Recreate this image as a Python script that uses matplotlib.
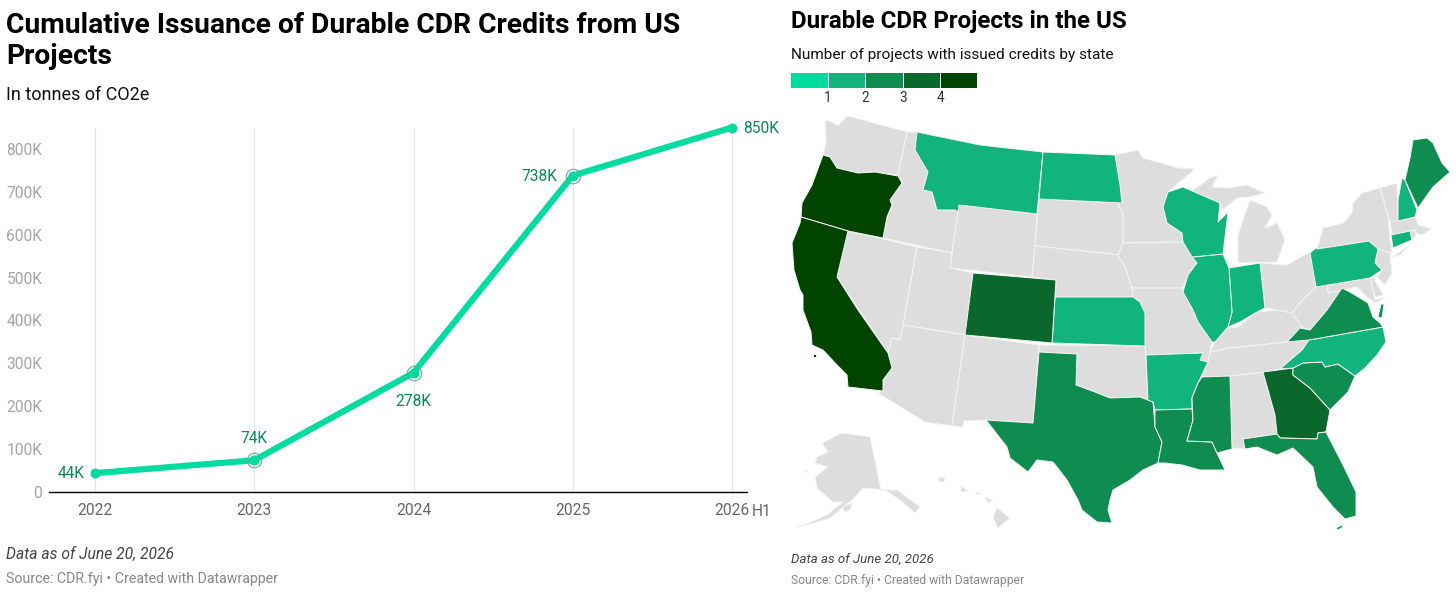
import matplotlib
matplotlib.use("Agg")
import matplotlib.pyplot as plt
from matplotlib.patches import Polygon

plt.rcParams['font.family'] = ['Roboto', 'DejaVu Sans']

W, H = 1456, 592

# ---- line chart data
years = ['2022', '2023', '2024', '2025', '2026']
issued_k = [44, 74, 278, 738, 850]
issued_labels = ['44K', '74K', '278K', '738K', '850K']
y_ticks = [0, 100, 200, 300, 400, 500, 600, 700, 800]
y_tick_labels = ['0', '100K', '200K', '300K', '400K', '500K', '600K', '700K', '800K']

# ---- map data
legend_colors = ['#00dca0', '#10b47c', '#0f8c50', '#0a682c', '#004400']
legend_labels = ['1', '2', '3', '4']
no_data = '#dddddd'
projects_by_state = {
    'OR': 4, 'CA': 4, 'CAI': 4, 'CO': 3, 'GA': 3, 'TX': 2, 'LA': 2, 'MS': 2, 'FL': 2, 'FLK': 2, 'SC': 2,
    'VA': 2, 'ME': 2, 'VAE': 2, 'MT': 1, 'ND': 1, 'WI': 1, 'IL': 1, 'IN': 1, 'KS': 1,
    'AR': 1, 'NC': 1, 'PA': 1, 'NH': 1, 'CT': 1,
}

# state outlines, traced as map-space vertices
state_shapes = {
 'WA': [(825,120),(832,122),(838,126),(843,120),(848,116),(907,132),(898,175),(875,172),(858,173),(837,168),(830,157),(823,155),(826,142)],
 'OR': [(823,155),(830,157),(837,168),(858,173),(875,172),(898,176),(902,183),(890,200),(892,205),(887,217),(883,238),(848,231),(801,217),(802,203),(812,185)],
 'CA': [(801,217),(848,231),(837,277),(858,310),(888,353),(892,368),(883,380),(883,391),(848,387),(847,375),(837,365),(823,350),(812,345),(811,332),(803,310),(803,295),(800,290),(794,270),(793,257),(792,243),(800,223)],
 'CAI': [(813,354),(816,354),(816,357),(813,357)],
 'ID': [(907,132),(917,132),(915,150),(928,172),(923,190),(932,192),(937,210),(955,210),(958,212),(952,253),(883,238),(887,217),(892,205),(890,200),(902,183),(898,175)],
 'MT': [(917,132),(980,145),(1043,152),(1037,214),(959,205),(958,212),(955,210),(937,210),(932,192),(923,190),(928,172),(915,150)],
 'ND': [(1043,152),(1115,155),(1120,185),(1122,203),(1039,199)],
 'SD': [(1039,199),(1122,203),(1119,207),(1123,213),(1123,243),(1118,255),(1103,253),(1035,246)],
 'WY': [(959,205),(1037,214),(1035,246),(1032,277),(950,268),(952,253),(958,212)],
 'NE': [(1035,246),(1103,253),(1118,255),(1125,267),(1132,288),(1133,297),(1055,297),(1056,280),(1032,277)],
 'KS': [(1055,297),(1133,297),(1140,302),(1145,313),(1145,346),(1052,343)],
 'CO': [(973,273),(1056,280),(1052,343),(965,335)],
 'NV': [(848,231),(917,247),(903,325),(900,340),(892,338),(888,353),(837,277)],
 'UT': [(917,247),(952,253),(950,268),(973,273),(965,335),(903,325)],
 'AZ': [(903,325),(965,335),(952,426),(925,422),(878,393),(883,391),(883,380),(892,368),(888,353),(892,338),(900,340)],
 'NM': [(965,335),(1039,345),(1033,423),(986,420),(964,421),(963,427),(952,426)],
 'TX': [(1039,352),(1077,354),(1076,385),(1095,392),(1110,398),(1140,397),(1153,402),(1155,427),(1162,442),(1158,463),(1143,470),(1130,480),(1113,490),(1110,500),(1108,510),(1112,523),(1097,522),(1082,510),(1078,500),(1067,480),(1053,462),(1037,460),(1028,472),(1010,458),(1007,447),(986,420),(1033,423)],
 'OK': [(1039,345),(1145,346),(1146,355),(1148,400),(1140,397),(1110,398),(1095,392),(1076,385),(1077,354),(1039,352)],
 'AR': [(1146,355),(1203,353),(1200,360),(1208,362),(1198,383),(1192,398),(1192,409),(1155,410),(1153,402),(1148,400)],
 'LA': [(1155,410),(1192,409),(1193,420),(1187,441),(1212,442),(1217,453),(1225,470),(1200,470),(1182,465),(1165,463),(1158,463),(1162,442),(1155,427)],
 'MS': [(1202,377),(1230,376),(1232,449),(1217,453),(1212,442),(1187,441),(1193,420),(1192,398),(1198,383)],
 'AL': [(1230,376),(1263,372),(1275,415),(1277,434),(1243,439),(1245,449),(1233,448),(1232,449)],
 'GA': [(1263,372),(1293,368),(1293,375),(1310,388),(1330,410),(1326,432),(1318,433),(1317,439),(1280,438),(1277,434),(1275,415)],
 'FL': [(1243,439),(1277,434),(1280,438),(1317,439),(1318,433),(1326,432),(1343,465),(1356,492),(1356,516),(1345,519),(1333,507),(1317,487),(1313,467),(1293,448),(1277,455),(1257,447),(1245,449)],
 'FLK': [(1336,528),(1342,525),(1343,527),(1338,530)],
 'SC': [(1293,368),(1303,363),(1322,362),(1325,367),(1338,364),(1355,376),(1348,392),(1330,410),(1310,388),(1293,375)],
 'NC': [(1280,369),(1302,350),(1309,340),(1383,327),(1386,342),(1377,355),(1365,368),(1355,376),(1338,364),(1325,367),(1322,362),(1303,363),(1293,368)],
 'TN': [(1202,377),(1210,352),(1228,348),(1287,342),(1309,340),(1302,350),(1280,369),(1263,372),(1230,376)],
 'KY': [(1210,352),(1215,342),(1227,328),(1238,327),(1257,312),(1277,310),(1292,313),(1302,327),(1287,342),(1228,348)],
 'VA': [(1287,342),(1300,328),(1310,330),(1327,310),(1342,288),(1350,292),(1368,303),(1373,317),(1380,323),(1383,327),(1309,340)],
 'VAE': [(1378,317),(1381,304),(1384,304),(1382,318)],
 'WV': [(1292,313),(1302,327),(1310,330),(1327,310),(1342,288),(1328,293),(1327,285),(1316,287),(1314,287),(1302,300)],
 'OH': [(1260,263),(1287,265),(1310,252),(1316,287),(1302,300),(1292,313),(1277,310),(1265,308)],
 'IN': [(1229,268),(1260,263),(1265,308),(1257,312),(1240,322),(1228,327),(1232,312)],
 'IL': [(1192,257),(1223,254),(1229,268),(1232,312),(1228,327),(1215,342),(1212,342),(1198,322),(1193,310),(1183,292),(1188,275),(1197,263)],
 'WI': [(1168,192),(1183,187),(1220,203),(1218,222),(1228,212),(1223,254),(1192,257),(1183,242),(1182,233),(1167,223),(1163,207)],
 'MN': [(1115,155),(1138,150),(1143,158),(1158,162),(1178,168),(1195,169),(1182,180),(1168,192),(1163,207),(1167,223),(1182,233),(1183,242),(1123,243),(1123,213),(1119,207)],
 'IA': [(1123,243),(1183,242),(1192,257),(1197,263),(1188,275),(1183,288),(1132,288),(1125,267),(1118,255)],
 'MO': [(1132,288),(1183,288),(1183,292),(1193,310),(1198,322),(1212,342),(1210,352),(1208,362),(1200,360),(1203,353),(1146,355),(1145,346),(1145,313),(1140,302),(1133,297)],
 'MIU': [(1192,191),(1210,178),(1218,175),(1212,187),(1227,188),(1247,185),(1265,193),(1250,197),(1237,198),(1223,210),(1220,203)],
 'MIL': [(1238,263),(1238,235),(1250,200),(1267,207),(1272,215),(1265,228),(1277,223),(1285,240),(1277,262)],
 'NY': [(1317,249),(1323,228),(1343,223),(1352,213),(1353,203),(1362,193),(1380,188),(1388,215),(1390,240),(1392,250),(1390,258),(1378,249),(1369,241)],
 'LI': [(1392,257),(1410,245),(1400,255)],
 'PA': [(1310,253),(1317,247),(1317,249),(1369,241),(1378,249),(1375,263),(1382,270),(1370,278),(1316,287)],
 'NJ': [(1378,249),(1390,253),(1392,273),(1385,285),(1377,277),(1382,270),(1375,263)],
 'MD': [(1328,285),(1370,278),(1375,300),(1385,297),(1376,303),(1367,297),(1357,287),(1343,290),(1328,293)],
 'DE': [(1370,278),(1373,277),(1383,295),(1375,297)],
 'VT': [(1380,188),(1397,183),(1398,221),(1390,222),(1388,215)],
 'NH': [(1402,178),(1405,180),(1417,210),(1415,217),(1398,221),(1398,200)],
 'ME': [(1413,140),(1427,138),(1433,143),(1442,163),(1450,172),(1433,187),(1418,208),(1405,180),(1410,158)],
 'MA': [(1390,222),(1415,217),(1418,225),(1432,229),(1422,235),(1412,232),(1392,235)],
 'CT': [(1391,235),(1410,231),(1412,240),(1393,248)],
 'RI': [(1410,231),(1415,230),(1416,236),(1412,240)],
 'AK': [(822,443),(842,433),(870,437),(881,490),(897,490),(920,507),(915,513),(900,500),(885,490),(863,488),(852,500),(830,518),(797,528),(827,515),(843,502),(833,502),(817,488),(815,477),(828,467),(815,463),(817,457),(828,452)],
 'AK2': [(843,507),(852,503),(850,510),(844,512)],
 'AK3': [(803,469),(808,472),(809,473),(805,472)],
 'HI1': [(997,508),(1010,518),(998,528),(993,518)],
 'HI2': [(938,478),(945,477),(944,482),(940,482)],
 'HI3': [(961,486),(968,491),(961,492)],
 'HI4': [(975,492),(982,494),(976,494)],
 'HI5': [(985,497),(993,500),(988,503)],
}

fig = plt.figure(figsize=(W / 100, H / 100), dpi=100, facecolor='white')


def T(x, y, s, **kw):
    kw.setdefault('va', 'center')
    fig.text(x / W, 1 - (y + 1.5) / H, s, **kw)


def px(v):
    return v * 0.72


# ---- map axes
ax_map = fig.add_axes([0, 0, 1, 1])
ax_map.set_xlim(0, W)
ax_map.set_ylim(H, 0)
ax_map.axis('off')
for name, verts in state_shapes.items():
    n = projects_by_state.get(name, 0)
    color = legend_colors[n] if n else no_data
    ax_map.add_patch(Polygon(verts, closed=True, facecolor=color, edgecolor='#f4f4f4',
                             linewidth=0.7, joinstyle='round', zorder=3 if n else 2))
# legend
leg_edges = [791, 828, 865, 903, 940, 977]
for i, c in enumerate(legend_colors):
    ax_map.fill_between([leg_edges[i] + (0.5 if i else 0), leg_edges[i + 1] - 0.5], 73, 88, color=c, lw=0)
for i, s in enumerate(legend_labels):
    T(leg_edges[i + 1], 97, s, ha='center', fontsize=px(13.5), color='#333333')

# ---- line axes
x0, x1, y0, y1 = 49, 747, 492, 128
ax = fig.add_axes([x0 / W, 1 - y0 / H, (x1 - x0) / W, (y0 - y1) / H])
ax.patch.set_alpha(0)
step = (732 - 95) / 4
ax.set_xlim((x0 - 95) / step, (x1 - 95) / step)
ax.set_ylim(0, (y0 - y1) / (343 / 800))
for s in ['top', 'left', 'right']:
    ax.spines[s].set_visible(False)
ax.spines['bottom'].set_color('#000000')
ax.spines['bottom'].set_linewidth(1.0)
xs = list(range(len(years)))
for x in xs:
    ax.axvline(x, color='#e4e4e4', lw=0.9, zorder=1)
ax.plot(xs, issued_k, color='#00dca0', lw=px(6.2), solid_joinstyle='round', zorder=3, clip_on=False)
ax.plot([xs[0], xs[-1]], [issued_k[0], issued_k[-1]], 'o', color='#00dca0', ms=px(10),
        mew=0, zorder=4, clip_on=False)
ax.plot(xs[1:4], issued_k[1:4], 'o', color='#00dca0', ms=px(10), mew=0, zorder=4)
ax.plot(xs[1:4], issued_k[1:4], 'o', mfc='none', mec='#62b096', mew=0.8, ms=px(14.5), zorder=5)
ax.set_xticks(xs, years)
ax.set_yticks(y_ticks, y_tick_labels)
ax.tick_params(axis='x', length=0, pad=8, labelsize=px(15.5), labelcolor='#666666')
ax.tick_params(axis='y', length=0, pad=4.8, labelsize=px(15.5), labelcolor='#a5a5a5')
label_offsets = [(-11, 0, 'right'), (0, 22, 'center'), (0, -29, 'center'), (-16, -1, 'right'), (11, -1, 'left')]
for x, v, s, (dx, dy, ha) in zip(xs, issued_k, issued_labels, label_offsets):
    ax.annotate(s, (x, v), xytext=(px(dx), px(dy)), textcoords='offset points', ha=ha, va='center',
                fontsize=px(15.5), color='#0a8a5a', zorder=6, annotation_clip=False)
T(752, 510, 'H1', ha='left', fontsize=px(15.5), color='#666666')

# ---- titles
T(6, 24, 'Cumulative Issuance of Durable CDR Credits from US', fontsize=px(28.3), fontweight='bold', color='#000000')
T(6, 55, 'Projects', fontsize=px(28.3), fontweight='bold', color='#000000')
T(6, 94, 'In tonnes of CO2e', fontsize=px(18), color='#111111')
T(6, 553, 'Data as of June 20, 2026', fontsize=px(15.6), style='italic', color='#444444')
T(6, 577, 'Source: CDR.fyi • Created with Datawrapper', fontsize=px(14.15), color='#888888')

T(791, 20, 'Durable CDR Projects in the US', fontsize=px(24.1), fontweight='bold', color='#000000')
T(791, 53, 'Number of projects with issued credits by state', fontsize=px(15.4), color='#111111')
T(791, 559, 'Data as of June 20, 2026', fontsize=px(13.2), style='italic', color='#444444')
T(791, 579, 'Source: CDR.fyi • Created with Datawrapper', fontsize=px(12.15), color='#888888')

fig.savefig('out.png', dpi=100, facecolor='white')
